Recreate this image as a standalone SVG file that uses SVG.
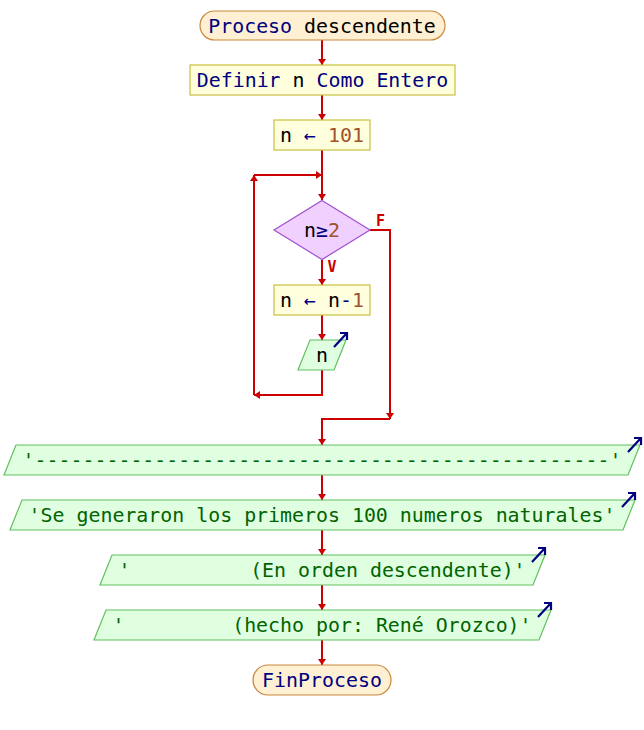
<svg xmlns="http://www.w3.org/2000/svg" width="644" height="730" viewBox="0 0 644 730">
<defs>
<style>
text{font-family:"DejaVu Sans Mono","Liberation Mono",monospace;font-size:19.9px;white-space:pre}
.c{text-anchor:middle}
.kw{fill:#000080}
.id{fill:#000000}
.num{fill:#a0522d}
.op{fill:#000080}
.str{fill:#006400}
.lbl{fill:#cc0000;font-weight:bold;font-size:15px}
.term{fill:#fff0d4;stroke:#c8863a;stroke-width:1.2}
.proc{fill:#ffffdd;stroke:#c8c040;stroke-width:1.2}
.dec{fill:#f0d0ff;stroke:#a050d0;stroke-width:1.2}
.out{fill:#e0ffe0;stroke:#60c060;stroke-width:1.2}
.con{fill:none;stroke:#cc0000;stroke-width:2}
.ico{fill:none;stroke:#000080;stroke-width:2.2}
</style>
<marker id="ah" markerUnits="userSpaceOnUse" markerWidth="7" markerHeight="9" refX="6" refY="4" orient="auto" viewBox="0 0 7 9">
<path d="M0,0 L6,4 L0,8 z" fill="#cc0000"/>
</marker>
<path id="icon" d="M-13,14 L0,0 M-7,0 L0,0 L0,7" class="ico"/>
</defs>

<g id="connectors">
<path class="con" d="M322,40 V65" marker-end="url(#ah)"/>
<path class="con" d="M322,95 V120" marker-end="url(#ah)"/>
<path class="con" d="M322,150 V200" marker-end="url(#ah)"/>
<path class="con" d="M322,260 V285" marker-end="url(#ah)"/>
<path class="con" d="M322,315 V340" marker-end="url(#ah)"/>
<path class="con" d="M322,370 V395 H254" marker-end="url(#ah)"/>
<path class="con" d="M254,395 V175" marker-end="url(#ah)"/>
<path class="con" d="M254,175 H322" marker-end="url(#ah)"/>
<path class="con" d="M370,230 H390 V419" marker-end="url(#ah)"/>
<path class="con" d="M390,419 H322 V445" marker-end="url(#ah)"/>
<path class="con" d="M322,475 V500" marker-end="url(#ah)"/>
<path class="con" d="M322,530 V555" marker-end="url(#ah)"/>
<path class="con" d="M322,585 V610" marker-end="url(#ah)"/>
<path class="con" d="M322,640 V665" marker-end="url(#ah)"/>
<text class="lbl" x="376" y="226">F</text>
<text class="lbl" x="327.5" y="272">V</text>
</g>

<g id="start">
<rect class="term" x="200" y="11" width="245" height="29" rx="14.5"/>
<text class="c" x="322" y="32.5"><tspan class="kw">Proceso</tspan><tspan class="id"> descendente</tspan></text>
</g>

<g id="define">
<rect class="proc" x="190" y="65" width="265" height="30"/>
<text class="c kw" x="322.5" y="87">Definir <tspan class="id">n</tspan> Como Entero</text>
</g>

<g id="assign1">
<rect class="proc" x="274" y="120" width="96" height="30"/>
<text class="c" x="322" y="142"><tspan class="id">n</tspan><tspan class="op"> ← </tspan><tspan class="num">101</tspan></text>
</g>

<g id="cond">
<polygon class="dec" points="322,200.5 370,230 322,259.5 274,230"/>
<text class="c" x="322" y="237"><tspan class="id">n</tspan><tspan class="op">≥</tspan><tspan class="num">2</tspan></text>
</g>

<g id="assign2">
<rect class="proc" x="274" y="285" width="96" height="30"/>
<text class="c" x="322" y="307"><tspan class="id">n</tspan><tspan class="op"> ← </tspan><tspan class="id">n</tspan><tspan class="op">-</tspan><tspan class="num">1</tspan></text>
</g>

<g id="out_n">
<polygon class="out" points="310,340 346,340 334,370 298,370"/>
<text class="c id" x="322" y="362">n</text>
<use href="#icon" x="347" y="333"/>
</g>

<g id="out1">
<polygon class="out" points="16,445 640,445 628,475 4,475"/>
<text class="c str" x="322" y="466.5">'------------------------------------------------'</text>
<use href="#icon" x="641" y="438"/>
</g>

<g id="out2">
<polygon class="out" points="22,500 635,500 623,530 10,530"/>
<text class="c str" x="322" y="521.5">'Se generaron los primeros 100 numeros naturales'</text>
<use href="#icon" x="635" y="493"/>
</g>

<g id="out3">
<polygon class="out" points="112,555 545,555 533,585 100,585"/>
<text class="c str" x="322" y="576.5">'          (En orden descendente)'</text>
<use href="#icon" x="545" y="548"/>
</g>

<g id="out4">
<polygon class="out" points="106,610 551,610 539,640 94,640"/>
<text class="c str" x="322" y="631.5">'         (hecho por: René Orozco)'</text>
<use href="#icon" x="551" y="603"/>
</g>

<g id="end">
<rect class="term" x="253" y="665" width="138" height="30" rx="15"/>
<text class="c kw" x="322" y="686.5">FinProceso</text>
</g>
</svg>
